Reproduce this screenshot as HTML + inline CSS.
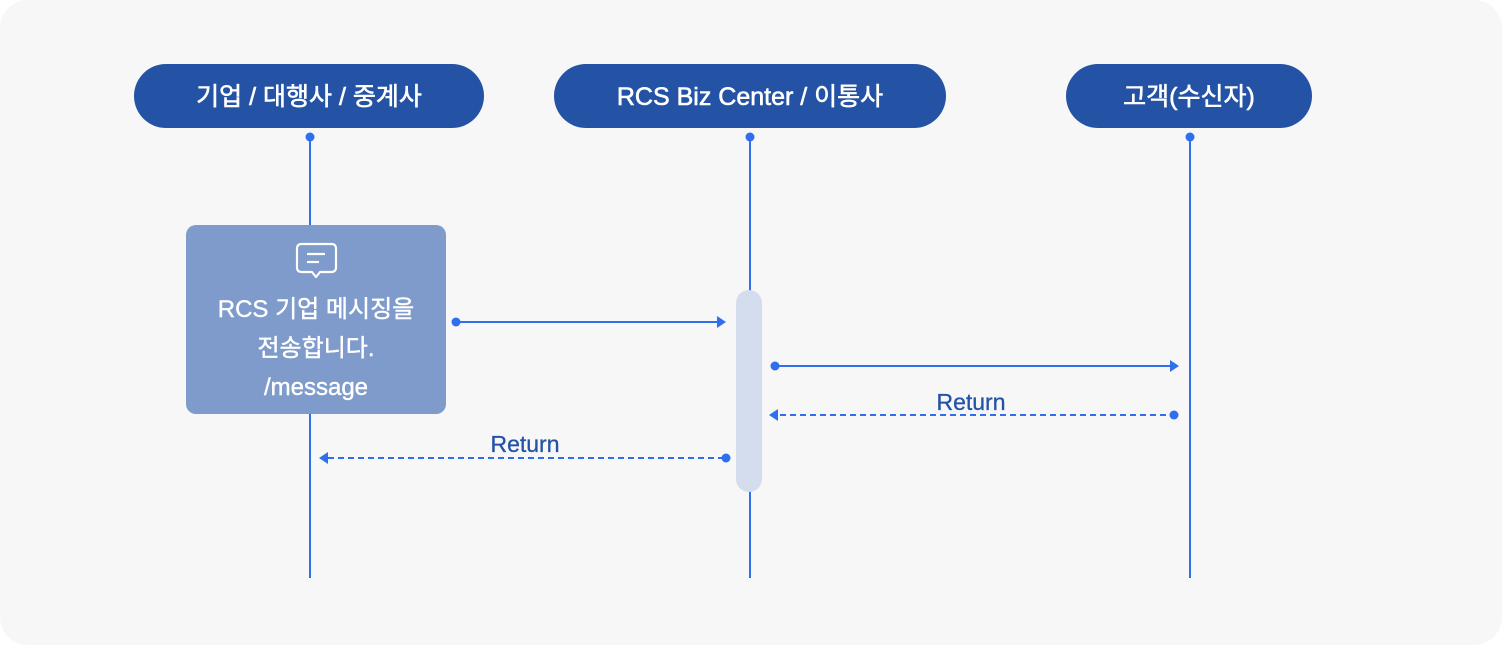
<!DOCTYPE html>
<html><head><meta charset="utf-8"><style>
body{margin:0;background:#fff;width:1502px;height:645px;overflow:hidden;font-family:"Liberation Sans","Noto Sans CJK KR",sans-serif}
</style></head><body>
<svg width="1502" height="645" xmlns="http://www.w3.org/2000/svg" font-family="Liberation Sans, Noto Sans CJK KR, sans-serif">
<rect x="0" y="0" width="1502" height="645" rx="28" fill="#f7f7f8"/>
<g fill="#2452a5">
<rect x="134" y="64" width="350" height="64" rx="32"/>
<rect x="554" y="64" width="392" height="64" rx="32"/>
<rect x="1066" y="64" width="246" height="64" rx="32"/>
</g>
<g fill="#fff" stroke="#fff" stroke-width="0.6" font-size="25" text-anchor="middle">
<text x="309" y="105">기업 / 대행사 / 중계사</text>
<text x="750" y="105">RCS Biz Center / 이통사</text>
<text x="1189" y="105">고객(수신자)</text>
</g>
<g stroke="#2f6fed" stroke-width="2">
<line x1="310" y1="137" x2="310" y2="578"/>
<line x1="750" y1="137" x2="750" y2="578"/>
<line x1="1190" y1="137" x2="1190" y2="578"/>
</g>
<g fill="#2f6fed"><circle cx="310" cy="137" r="4.5"/><circle cx="750" cy="137" r="4.5"/><circle cx="1190" cy="137" r="4.5"/></g>
<rect x="186" y="225" width="260" height="189" rx="10" fill="#7f9bcb"/>
<g fill="none" stroke="#fff" stroke-width="2.2" stroke-linejoin="round">
<path d="M301 244h31a4 4 0 0 1 4 4v20a4 4 0 0 1-4 4h-12l-4 5-4-5h-11a4 4 0 0 1-4-4v-20a4 4 0 0 1 4-4z"/>
<line x1="307" y1="254" x2="325" y2="254"/><line x1="307" y1="262" x2="319" y2="262"/>
</g>
<g fill="#fff" stroke="#fff" stroke-width="0.4" font-size="24" text-anchor="middle">
<text x="316" y="317">RCS 기업 메시징을</text>
<text x="316" y="356">전송합니다.</text>
<text x="316" y="395">/message</text>
</g>
<rect x="736" y="290" width="26" height="202" rx="13" fill="#d3ddee"/>
<g stroke="#2f6fed" stroke-width="2">
<line x1="456" y1="322" x2="718" y2="322"/>
<line x1="775" y1="366" x2="1170" y2="366"/>
<line x1="780" y1="415" x2="1174" y2="415" stroke-dasharray="6 4"/>
<line x1="328" y1="458" x2="726" y2="458" stroke-dasharray="6 4"/>
</g>
<g fill="#2f6fed">
<circle cx="456" cy="322" r="4.5"/><path d="M726 322l-9-6v12z"/>
<circle cx="775" cy="366" r="4.5"/><path d="M1179 366l-9-6v12z"/>
<circle cx="1174" cy="415" r="4.5"/><path d="M769 415l9-6v12z"/>
<circle cx="726" cy="458" r="4.5"/><path d="M319 458l9-6v12z"/>
</g>
<g fill="#2452a5" stroke="#2452a5" stroke-width="0.3" font-size="23" text-anchor="middle">
<text x="971" y="410">Return</text>
<text x="525" y="452">Return</text>
</g>
</svg>
</body></html>
